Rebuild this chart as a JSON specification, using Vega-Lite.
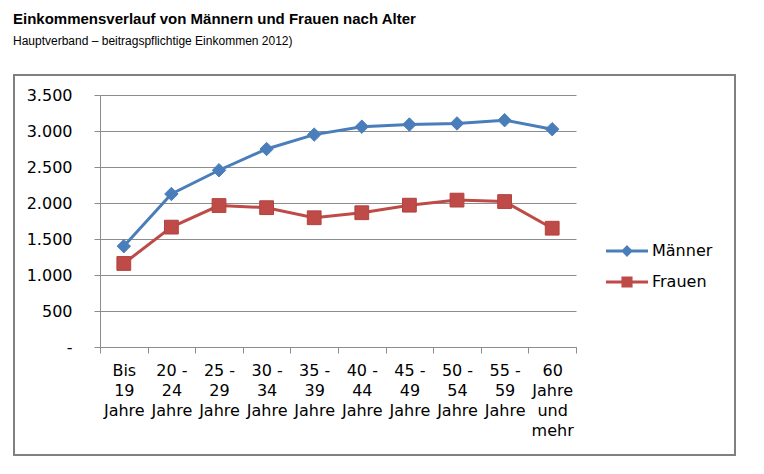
{
  "$schema": "https://vega.github.io/schema/vega-lite/v6.json",
  "width": 721,
  "height": 380,
  "autosize": {"type": "none"},
  "padding": {"left": 14, "top": 75, "right": 29, "bottom": 19},
  "background": "white",
  "title": {
    "text": "Einkommensverlauf von Männern und Frauen nach Alter",
    "subtitle": "Hauptverband – beitragspflichtige Einkommen 2012)",
    "anchor": "start",
    "frame": "group",
    "font": "Liberation Sans",
    "fontSize": 15,
    "fontWeight": "bold",
    "color": "#000000",
    "subtitleFont": "Liberation Sans",
    "subtitleFontSize": 12,
    "subtitleColor": "#000000",
    "subtitlePadding": 9,
    "offset": 28,
    "dx": -1
  },
  "data": {
    "values": [
      {"alter": "Bis|19|Jahre", "geschlecht": "Männer", "einkommen": 1400},
      {"alter": "20 -|24|Jahre", "geschlecht": "Männer", "einkommen": 2125},
      {"alter": "25 -|29|Jahre", "geschlecht": "Männer", "einkommen": 2455},
      {"alter": "30 -|34|Jahre", "geschlecht": "Männer", "einkommen": 2750},
      {"alter": "35 -|39|Jahre", "geschlecht": "Männer", "einkommen": 2950},
      {"alter": "40 -|44|Jahre", "geschlecht": "Männer", "einkommen": 3060},
      {"alter": "45 -|49|Jahre", "geschlecht": "Männer", "einkommen": 3090},
      {"alter": "50 -|54|Jahre", "geschlecht": "Männer", "einkommen": 3105},
      {"alter": "55 -|59|Jahre", "geschlecht": "Männer", "einkommen": 3150},
      {"alter": "60|Jahre|und|mehr", "geschlecht": "Männer", "einkommen": 3025},
      {"alter": "Bis|19|Jahre", "geschlecht": "Frauen", "einkommen": 1160},
      {"alter": "20 -|24|Jahre", "geschlecht": "Frauen", "einkommen": 1665},
      {"alter": "25 -|29|Jahre", "geschlecht": "Frauen", "einkommen": 1965},
      {"alter": "30 -|34|Jahre", "geschlecht": "Frauen", "einkommen": 1935},
      {"alter": "35 -|39|Jahre", "geschlecht": "Frauen", "einkommen": 1795},
      {"alter": "40 -|44|Jahre", "geschlecht": "Frauen", "einkommen": 1865},
      {"alter": "45 -|49|Jahre", "geschlecht": "Frauen", "einkommen": 1970},
      {"alter": "50 -|54|Jahre", "geschlecht": "Frauen", "einkommen": 2040},
      {"alter": "55 -|59|Jahre", "geschlecht": "Frauen", "einkommen": 2020},
      {"alter": "60|Jahre|und|mehr", "geschlecht": "Frauen", "einkommen": 1650}
    ]
  },
  "encoding": {
    "x": {
      "field": "alter",
      "type": "nominal",
      "sort": null,
      "scale": {"type": "band", "range": [86, 562], "paddingInner": 0, "paddingOuter": 0},
      "axis": {
        "title": null,
        "orient": "bottom",
        "offset": -108,
        "tickBand": "extent",
        "grid": false,
        "domainColor": "#8c8c8c",
        "tickColor": "#8c8c8c",
        "tickSize": 6,
        "labelAngle": 0,
        "labelFont": "DejaVu Sans",
        "labelFontSize": 16,
        "labelColor": "#000000",
        "labelLineHeight": 20,
        "labelPadding": 9,
        "labelBaseline": "top",
        "labelOverlap": false,
        "labelFlush": false,
        "labelExpr": "split(datum.label, '|')"
      }
    },
    "y": {
      "field": "einkommen",
      "type": "quantitative",
      "scale": {"domain": [0, 3500], "range": [272, 20], "nice": false, "zero": true},
      "axis": {
        "title": null,
        "offset": -86,
        "values": [0, 500, 1000, 1500, 2000, 2500, 3000, 3500],
        "grid": true,
        "gridColor": "#8c8c8c",
        "domainColor": "#8c8c8c",
        "tickColor": "#8c8c8c",
        "tickSize": 6,
        "labelPadding": 22,
        "labelFont": "DejaVu Sans",
        "labelFontSize": 16,
        "labelColor": "#000000",
        "labelExpr": "datum.value == 0 ? '-' : replace(format(datum.value, ','), ',', '.')"
      }
    },
    "color": {
      "field": "geschlecht",
      "type": "nominal",
      "scale": {"domain": ["Männer", "Frauen"], "range": ["#4A7EBB", "#BE4B48"]},
      "legend": {
        "orient": "none",
        "legendX": 597,
        "legendY": 160,
        "title": null,
        "labelFont": "DejaVu Sans",
        "labelFontSize": 16,
        "labelColor": "#000000",
        "symbolSize": 841,
        "symbolStrokeWidth": 3,
        "labelOffset": 9,
        "rowPadding": 5,
        "encode": {
          "symbols": {
            "update": {
              "shape": {"signal": "datum.value === 'Männer' ? 'M-1.45,0H1.45M0,-0.26L0.26,0L0,0.26L-0.26,0Z' : 'M-1.45,0H1.45M-0.28,-0.28H0.28V0.28H-0.28Z'"},
              "fill": {"signal": "datum.value === 'Männer' ? '#4A7EBB' : '#BE4B48'"},
              "stroke": {"signal": "datum.value === 'Männer' ? '#4A7EBB' : '#BE4B48'"},
              "strokeWidth": {"value": 3},
              "opacity": {"value": 1}
            }
          }
        }
      }
    }
  },
  "layer": [
    {"mark": {"type": "line", "strokeWidth": 3}},
    {
      "transform": [{"filter": "datum.geschlecht === 'Männer'"}],
      "mark": {"type": "point", "shape": "diamond", "filled": true, "opacity": 1, "size": 180, "stroke": "#4A7EBB", "strokeWidth": 1}
    },
    {
      "transform": [{"filter": "datum.geschlecht === 'Frauen'"}],
      "mark": {"type": "point", "shape": "square", "filled": true, "opacity": 1, "size": 190, "stroke": "#B5403D", "strokeWidth": 1}
    }
  ],
  "config": {
    "view": {"stroke": "#808080", "strokeWidth": 2}
  }
}
